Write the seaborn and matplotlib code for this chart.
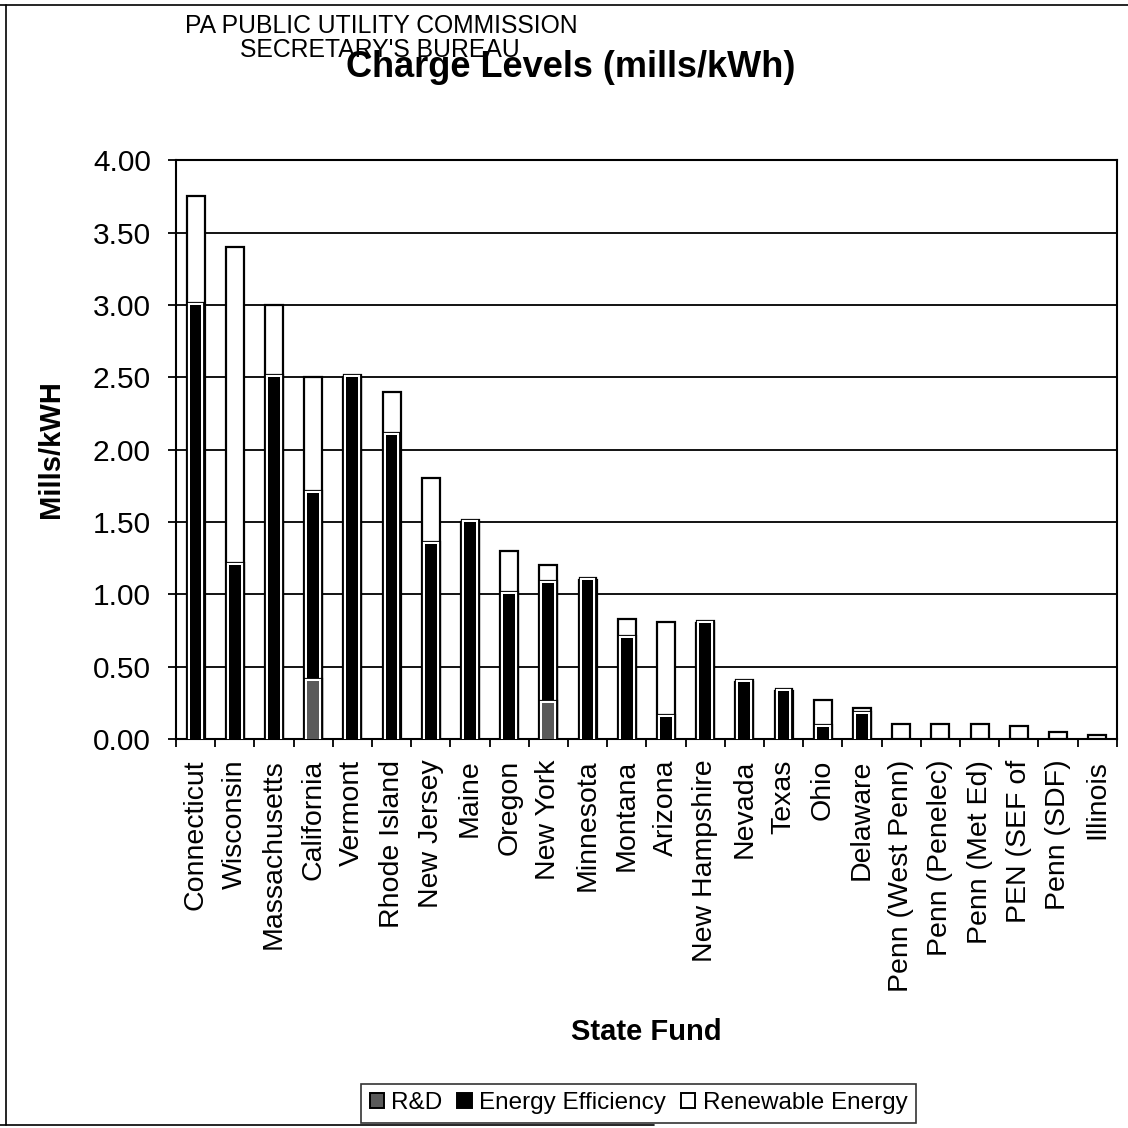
import numpy as np
import pandas as pd
import matplotlib
matplotlib.use("Agg")
import matplotlib.pyplot as plt
import matplotlib.patheffects as pe
from matplotlib.patches import Patch
from matplotlib.lines import Line2D
import seaborn as sns

# Public benefit charge components by state fund (mills/kWh)
states = [
    "Connecticut", "Wisconsin", "Massachusetts", "California", "Vermont",
    "Rhode Island", "New Jersey", "Maine", "Oregon", "New York", "Minnesota",
    "Montana", "Arizona", "New Hampshire", "Nevada", "Texas", "Ohio",
    "Delaware", "Penn (West Penn)", "Penn (Penelec)", "Penn (Met Ed)",
    "PEN (SEF of", "Penn (SDF)", "Illinois",
]
rd = [0.00, 0.00, 0.00, 0.40, 0.00, 0.00, 0.00, 0.00, 0.00, 0.25, 0.00, 0.00,
      0.00, 0.00, 0.00, 0.00, 0.00, 0.00, 0.00, 0.00, 0.00, 0.00, 0.00, 0.00]
ee = [3.00, 1.20, 2.50, 1.30, 2.50, 2.10, 1.35, 1.50, 1.00, 0.83, 1.10, 0.70,
      0.15, 0.80, 0.39, 0.33, 0.08, 0.17, 0.00, 0.00, 0.00, 0.00, 0.00, 0.00]
re = [0.75, 2.20, 0.50, 0.80, 0.00, 0.30, 0.45, 0.00, 0.30, 0.12, 0.00, 0.13,
      0.66, 0.00, 0.00, 0.00, 0.19, 0.04, 0.10, 0.10, 0.10, 0.09, 0.05, 0.03]
y_ticks = [0.0, 0.5, 1.0, 1.5, 2.0, 2.5, 3.0, 3.5, 4.0]

df = pd.DataFrame({"state": states, "rd": rd, "ee": ee, "re": re})
df["rd_ee"] = df["rd"] + df["ee"]
df["total"] = df["rd_ee"] + df["re"]

sns.set_theme(style="white")
plt.rcParams["font.family"] = ["Liberation Sans", "DejaVu Sans"]

fig = plt.figure(figsize=(11.28, 11.28), dpi=100)
ax = fig.add_axes([0.156, 0.345, 0.834, 0.513])

# Black outline, white gap, then the solid fill
ring = [pe.Stroke(linewidth=5.2, foreground="black"),
        pe.Stroke(linewidth=3.0, foreground="white"),
        pe.Normal()]

# Stacked bars drawn as overlapping cumulative layers
sns.barplot(data=df, x="state", y="total", order=states, color="white",
            saturation=1, edgecolor="black", linewidth=1.6, width=0.46,
            errorbar=None, ax=ax, zorder=3)
n1 = len(ax.patches)
sns.barplot(data=df, x="state", y="rd_ee", order=states, color="black",
            saturation=1, linewidth=0, width=0.30, errorbar=None, ax=ax,
            zorder=4)
sns.barplot(data=df, x="state", y="rd", order=states, color="#5a5a5a",
            saturation=1, linewidth=0, width=0.30, errorbar=None, ax=ax,
            zorder=5)
n3 = len(ax.patches)

for p in ax.patches[n1:n3]:
    if p.get_height() <= 0:
        p.set_visible(False)
    else:
        p.set_path_effects(ring)

ax.set_xlim(-0.5, len(states) - 0.5)
ax.set_ylim(0, 4.0)
ax.set_yticks(y_ticks)
ax.set_yticklabels([f"{v:.2f}" for v in y_ticks])
ax.yaxis.grid(True, color="black", linewidth=1.3)
ax.xaxis.grid(False)
ax.set_axisbelow(True)

for s in ax.spines.values():
    s.set_visible(True)
    s.set_color("black")
    s.set_linewidth(1.5)

ax.set_xticks(np.arange(-0.5, len(states), 1.0), minor=True)
ax.tick_params(axis="x", which="major", length=0, pad=15, labelsize=20.5,
               labelrotation=90, colors="black")
ax.tick_params(axis="x", which="minor", length=6, width=1.3,
               direction="out", bottom=True, color="black")
ax.tick_params(axis="y", which="major", length=6, width=1.3,
               direction="out", left=True, pad=12, labelsize=21.5,
               colors="black")
for lab in ax.get_xticklabels():
    lab.set_verticalalignment("top")

ax.set_xlabel("State Fund", fontsize=21, fontweight="bold", color="black")
ax.xaxis.set_label_coords(0.5, -0.482)
ax.set_ylabel("Mills/kWH", fontsize=21, fontweight="bold", color="black")
ax.yaxis.set_label_coords(-0.118, 0.5)

fig.text(0.506, 0.940, "Charge Levels (mills/kWh)", ha="center",
         va="center", fontsize=26, fontweight="bold", color="black")

# Receipt stamp lettering across the top of the page
fig.text(185 / 1128, 1 - 26 / 1128, "PA PUBLIC UTILITY COMMISSION",
         ha="left", va="center", fontsize=17.8, color="black", zorder=10)
fig.text(240 / 1128, 1 - 50 / 1128, "SECRETARY'S BUREAU",
         ha="left", va="center", fontsize=17.8, color="black", zorder=10)

handles = [
    Patch(facecolor="#5a5a5a", edgecolor="black", linewidth=1.4, label="R&D"),
    Patch(facecolor="black", edgecolor="black", linewidth=1.4,
          label="Energy Efficiency"),
    Patch(facecolor="white", edgecolor="black", linewidth=1.4,
          label="Renewable Energy"),
]
leg = fig.legend(handles=handles, loc="center", ncol=3,
                 bbox_to_anchor=(0.566, 0.022),
                 bbox_transform=fig.transFigure, frameon=True,
                 fancybox=False, fontsize=17.5, handlelength=0.6,
                 handleheight=0.6, handletextpad=0.3, columnspacing=0.6,
                 borderpad=0.35, borderaxespad=0)
leg.get_frame().set_edgecolor("black")
leg.get_frame().set_linewidth(1.2)
for t in leg.get_texts():
    t.set_color("black")

# Chart-area border
for xs, ys in [([0.005, 0.005], [0.003, 0.996]),
               ([0.0, 1.0], [0.996, 0.996]),
               ([0.0, 0.58], [0.003, 0.003])]:
    fig.add_artist(Line2D(xs, ys, transform=fig.transFigure,
                          color="black", linewidth=1.2))

fig.savefig("out.png", dpi=100, facecolor="white")
